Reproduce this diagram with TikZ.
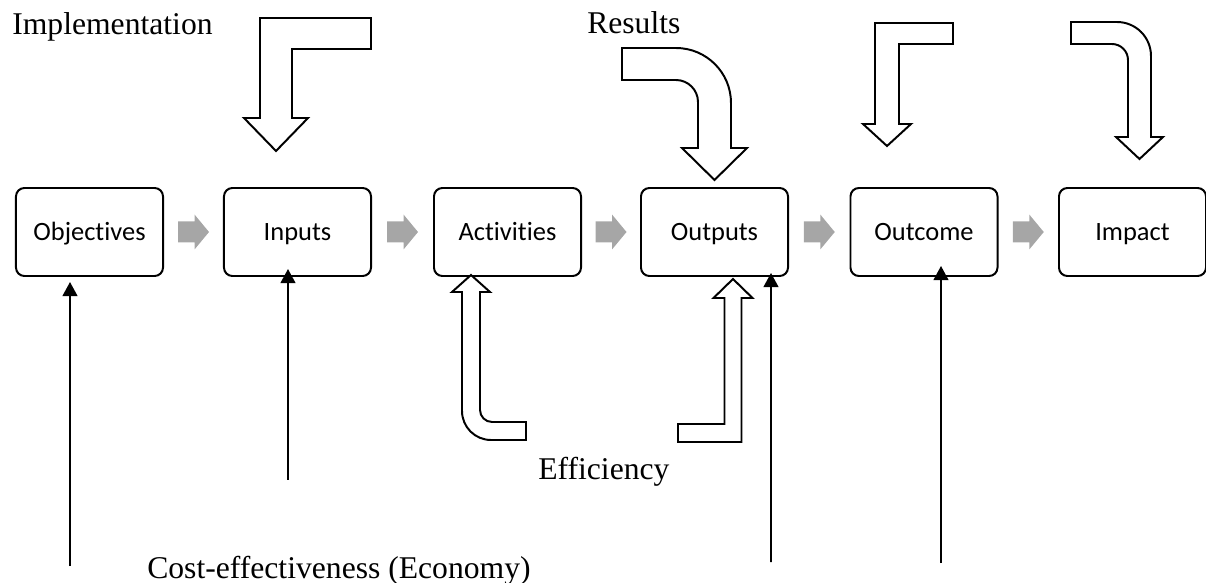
\documentclass[tikz,border=0pt]{standalone}
\usepackage{fontspec}
\setmainfont{Liberation Serif}
\newfontfamily\boxfont[Ligatures=NoCommon]{Carlito}
\usetikzlibrary{calc}
\usetikzlibrary{arrows.meta}
\definecolor{stepgray}{RGB}{166,166,166}
\tikzset{
  box/.style={draw=black, line width=1.4pt, rounded corners=6pt, minimum width=3.675cm,
    minimum height=2.2cm, inner sep=0pt, text height=12.1pt, text depth=0pt,
    font=\boxfont\fontsize{18.8}{22}\selectfont},
  hollow/.style={draw=black, fill=white, line width=1.4pt, line join=miter},
  upline/.style={black, line width=1.3pt, ->, >={Triangle[width=10.5pt,length=10pt]}},
  bigtext/.style={inner sep=0pt, anchor=base west, font=\fontsize{22.5}{27}\selectfont}
}

\begin{document}
\begin{tikzpicture}[x=0.025cm, y=-0.025cm]
\useasboundingbox (0,0) rectangle (1206,583);
\foreach \name/\x/\txt in {obj/89.5/Objectives, inp/297.5/Inputs, act/507.5/Activities,
  outp/714.5/Outputs, outc/924/Outcome, imp/1132.5/Impact} {
 \node[box] (\name) at (\x,232) {\txt};
}
\foreach \a/\b in {obj/inp, inp/act, act/outp, outp/outc, outc/imp} {
 \fill[stepgray] ($(\a.east)!.5!(\b.west)$) ++(-15.5,-10.5) -- ++(16.5,0) -- ++(0,-7)
   -- ++(14.5,17.5) -- ++(-14.5,17.5) -- ++(0,-7) -- ++(-16.5,0) -- cycle;
}
\node[bigtext] (impl) at (12,35) {Implementation};
\node[bigtext] (res) at (587,34) {Results};
\node[bigtext] (eff) at (538,480) {Efficiency};
\node[bigtext] (cost) at (147,578) {Cost-effectiveness (Economy)};

\draw[hollow] (371,18) -- (260,18) -- (260,118) -- (244,118) -- (276,151) -- (308,118)
  -- (292,118) -- (292,49) -- (371,49) -- cycle;
\draw[hollow] (622,48) -- (676,48) .. controls (706.4,48) and (731,72.6) .. (731,103)
  -- (731,148) -- (747,148) -- (714.5,180) -- (682,148) -- (698,148) -- (698,102)
  .. controls (698,89.9) and (688.1,80) .. (676,80) -- (622,80) -- cycle;
\draw[hollow] (953,23) -- (875,23) -- (875,124) -- (863,124) -- (887,146) -- (911,124)
  -- (899,124) -- (899,44) -- (953,44) -- cycle;
\draw[hollow] (1071,22) -- (1117,22) .. controls (1135.8,22) and (1151,37.2) .. (1151,56)
  -- (1151,137) -- (1163,137) -- (1139.5,159) -- (1116,137) -- (1128,137) -- (1128,60)
  .. controls (1128,51.2) and (1120.8,44) .. (1112,44) -- (1071,44) -- cycle;
\draw[hollow] (526,440) -- (491,440) .. controls (475,440) and (462,427) .. (462,411)
  -- (462,292) -- (452,292) -- (471,275) -- (490,292) -- (480,292) -- (480,410)
  .. controls (480,416.6) and (485.4,422) .. (492,422) -- (526,422) -- cycle;
\draw[hollow] (741.5,442) -- (678,442) -- (678,424) -- (724.5,424) -- (724.5,298)
  -- (713.5,298) -- (733,279) -- (752.5,298) -- (741.5,298) -- cycle;

\coordinate (objfoot) at (70,566);
\coordinate (inpfoot) at (288,480);
\coordinate (outpfoot) at (771,562);
\coordinate (outcfoot) at (941,563);
\draw[upline] (objfoot) -- ($(obj.south)+(-19.5,5)$);
\draw[upline] (inpfoot) -- ($(inp.south)+(-9.5,-8)$);
\draw[upline] (outpfoot) -- ($(outp.south)+(56.5,-4)$);
\draw[upline] (outcfoot) -- ($(outc.south)+(17,-11)$);
\end{tikzpicture}
\end{document}
